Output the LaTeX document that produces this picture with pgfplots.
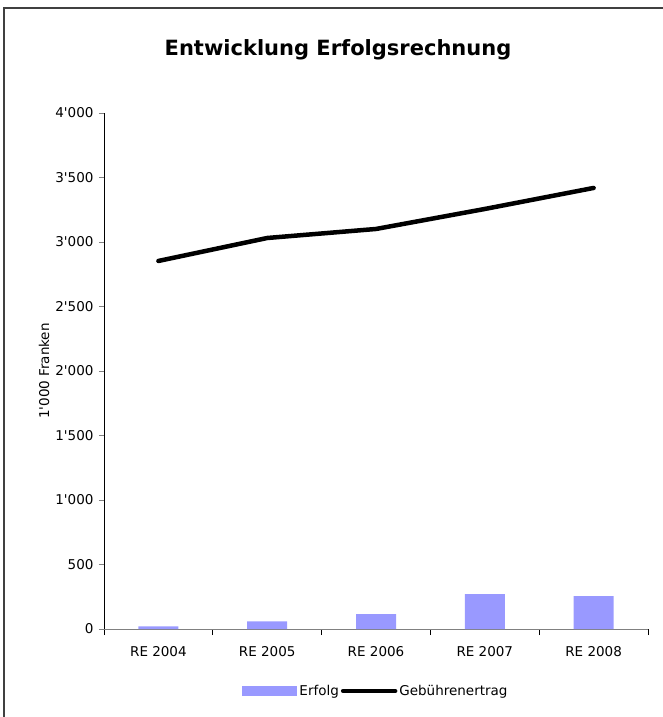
\documentclass[border=0pt]{standalone}
\usepackage{fontspec}
\newfontfamily\lib{DejaVu Sans}
\usepackage{pgfplots}
\pgfplotsset{compat=1.18}
\definecolor{barc}{HTML}{9999FF}
\definecolor{axgray}{HTML}{808080}
\begin{document}
\begin{tikzpicture}[x=1pt,y=1pt]
\path[use as bounding box] (-104,-88) rectangle (558,629);
\draw[line width=1.6pt, draw=black!75] (-100,-89) -- (-100,621) -- (559,621);
\begin{axis}[
  at={(0,0)}, anchor=south west,
  scale only axis, width=544pt, height=516pt,
  xmin=-0.5, xmax=4.5, ymin=0, ymax=4000,
  axis x line*=bottom, axis y line*=left,
  x axis line style={draw=axgray, line width=1pt},
  y axis line style={draw=black, line width=0.8pt},
  xtick={0,...,4},
  xticklabels={RE 2004,RE 2005,RE 2006,RE 2007,RE 2008},
  major x tick style={draw=none},
  minor xtick={-0.5,0.5,1.5,2.5,3.5,4.5},
  minor x tick style={draw=black, line width=0.8pt},
  ytick={0,500,...,4000},
  yticklabels={0,500,1'000,1'500,2'000,2'500,3'000,3'500,4'000},
  y tick style={draw=axgray, line width=0.8pt},
  tick align=outside, tick pos=left,
  major tick length=5pt, minor tick length=6pt,
  ticklabel style={font=\lib\fontsize{13.5}{15}\selectfont, text=black},
  xticklabel style={yshift=-9pt},
  yticklabel style={xshift=-2pt},
  ylabel={1'000 Franken},
  ylabel style={font=\lib\fontsize{13.5}{15}\selectfont, at={(axis description cs:-0.11,0.5)}, anchor=center},
  legend style={at={(rel axis cs:0.5,-0.12)}, anchor=center, draw=none, fill=none,
    font=\lib\fontsize{13.5}{15}\selectfont, legend columns=2,
    /tikz/every odd column/.append style={column sep=0pt}},
  legend cell align=left,
]
\addplot[ybar, bar width=40pt, fill=barc, draw=none,
  legend image code/.code={\fill[barc] (0pt,-5pt) rectangle (55pt,5pt);}]
  coordinates {(0,20) (1,60) (2,115) (3,270) (4,255)};
\addlegendentry{Erfolg}
\addplot[black, line width=4.5pt, line cap=round, line join=round,
  legend image code/.code={\draw[black, line width=4.5pt] (0pt,0pt) -- (52pt,0pt);}]
  coordinates {(0,2853) (1,3031) (2,3101) (3,3256) (4,3419)};
\addlegendentry{Gebührenertrag}
\end{axis}
\node[font=\lib\bfseries\fontsize{21}{24}\selectfont] at (234,579) {Entwicklung Erfolgsrechnung};
\end{tikzpicture}
\end{document}
